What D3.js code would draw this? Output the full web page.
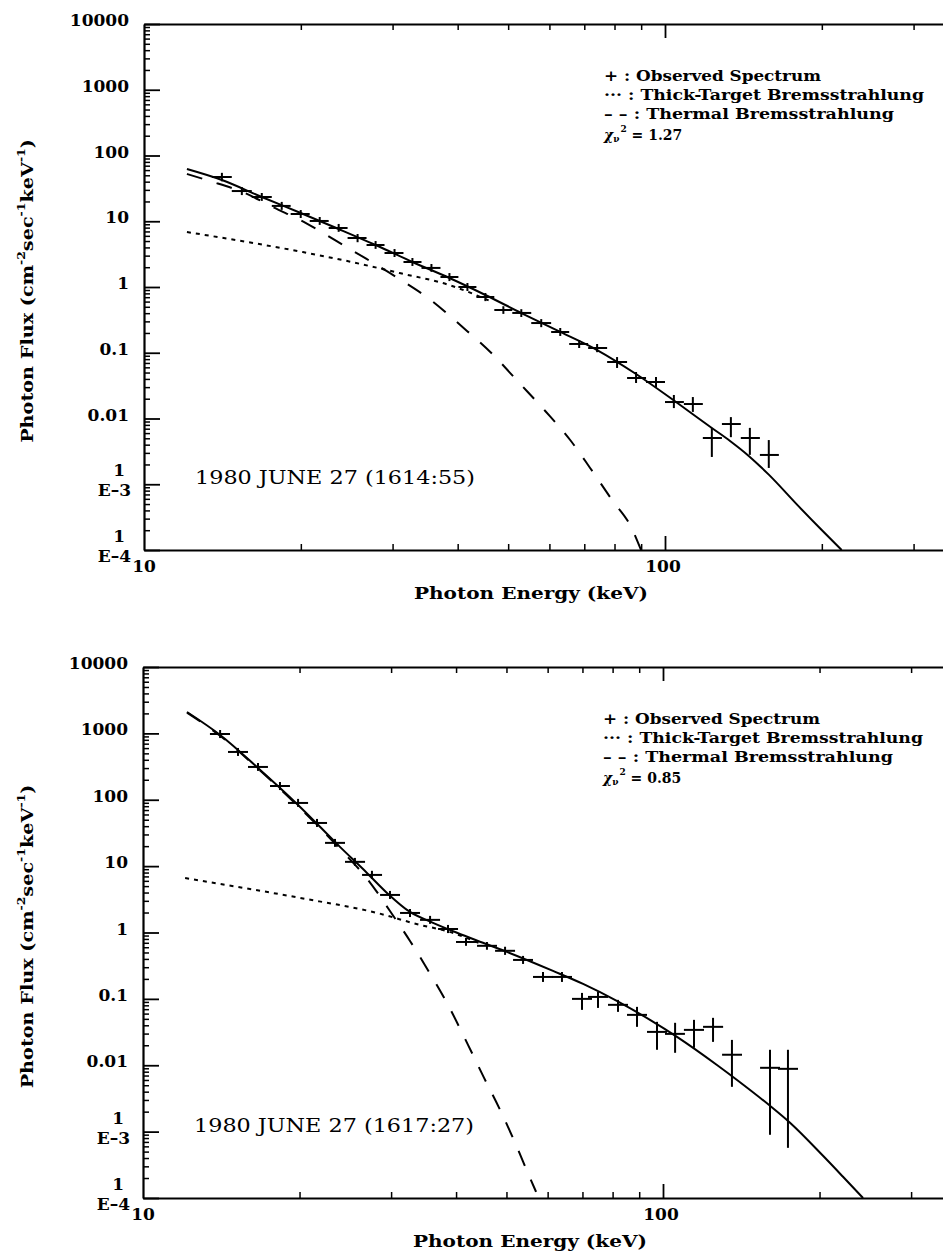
<!DOCTYPE html>
<html>
<head>
<meta charset="utf-8">
<script src="https://cdn.jsdelivr.net/npm/d3@7"></script>
<style>
  body { margin: 0; background: #fff; }
  svg { display: block; }
</style>
</head>
<body>
<svg id="fig" width="943" height="1253"></svg>
<script>
// ---- labels ----
const panelDates = ["1980 JUNE 27 (1614:55)", "1980 JUNE 27 (1617:27)"];
const chiSquared = ["1.27", "0.85"];
const legendLabels = ["+ : Observed Spectrum", "··· : Thick-Target Bremsstrahlung", "– – : Thermal Bremsstrahlung"];
const yTickValues = [1e-4, 1e-3, 0.01, 0.1, 1, 10, 100, 1000, 10000];
const yTickLabels = ["1\nE–4", "1\nE–3", "0.01", "0.1", "1", "10", "100", "1000", "10000"];
const xLabelValues = [10, 100];
const xLabelText = ["10", "100"];

// ---- panel A: 1614:55 ----
const obsA_E = [14.11, 15.41, 16.83, 18.38, 19.99, 21.74, 23.64, 25.70, 27.83, 30.26, 32.75, 35.62, 38.57, 41.76, 45.21, 48.95, 52.99, 57.87, 62.94, 68.43, 74.08, 80.91, 87.99, 96.1, 104.0, 113.1, 123.0, 133.8, 145.5, 158.2];
const obsA_Elo = [13.50, 14.74, 16.10, 17.59, 19.12, 20.80, 22.62, 24.59, 26.74, 28.95, 31.48, 34.09, 37.07, 40.13, 43.45, 47.03, 50.92, 55.37, 60.46, 65.48, 71.20, 77.43, 84.57, 91.96, 100.0, 108.7, 118.2, 128.6, 139.8, 152.1];
const obsA_Ehi = [14.74, 16.10, 17.59, 19.12, 20.80, 22.62, 24.59, 26.74, 28.95, 31.48, 34.09, 37.07, 40.13, 43.45, 47.03, 50.92, 55.37, 60.46, 65.48, 71.20, 77.43, 84.57, 91.96, 100.0, 108.7, 118.2, 128.6, 139.8, 152.1, 165.4];
const obsA_F = [47.1, 28.8, 23.4, 17.1, 12.9, 10.1, 7.9, 5.56, 4.35, 3.29, 2.40, 1.95, 1.42, 1.00, 0.705, 0.447, 0.403, 0.283, 0.207, 0.136, 0.118, 0.0723, 0.0413, 0.0359, 0.0178, 0.0166, 0.00505, 0.00824, 0.00505, 0.00279];
const obsA_Flo = [40.5, 25.0, 20.4, 14.9, 11.2, 8.8, 6.9, 4.8, 3.8, 2.86, 2.09, 1.70, 1.23, 0.87, 0.61, 0.39, 0.35, 0.245, 0.18, 0.118, 0.102, 0.0587, 0.0347, 0.0301, 0.0144, 0.0126, 0.0026, 0.0052, 0.0028, 0.00177];
const obsA_Fhi = [54.5, 33.1, 26.9, 19.7, 14.8, 11.6, 9.1, 6.4, 5.0, 3.78, 2.76, 2.24, 1.63, 1.15, 0.81, 0.51, 0.46, 0.325, 0.238, 0.156, 0.136, 0.086, 0.051, 0.0428, 0.0228, 0.0212, 0.0072, 0.0105, 0.0072, 0.0047];

const totalA_E = [12.09, 14.11, 16.83, 19.99, 23.64, 27.83, 32.75, 38.57, 45.21, 52.99, 62.94, 74.08, 87.99, 105.0, 123.0, 133.5, 144.8, 158.2, 180.6, 199.9, 218.3];
const totalA_F = [62.3, 42.4, 23.4, 13.35, 7.62, 4.35, 2.40, 1.37, 0.756, 0.402, 0.207, 0.110, 0.0475, 0.0178, 0.00717, 0.00452, 0.00270, 0.00140, 4.6e-4, 2.01e-4, 1.0e-4];
const thickA_E = [12.09, 20.17, 24.06, 30.94, 38.57, 46.0];
const thickA_F = [6.86, 3.40, 2.57, 1.63, 1.07, 0.62];
const thermA_E = [12.09, 13.38, 15.62, 17.67, 20.62, 23.22, 26.74, 30.94, 35.31, 40.66, 46.42, 52.52, 58.90, 65.77, 71.82, 79.14, 86.08, 89.95];
const thermA_F = [52.3, 40.9, 26.9, 16.5, 9.08, 5.19, 2.67, 1.32, 0.657, 0.255, 0.0991, 0.0347, 0.0130, 0.00471, 0.00177, 5.76e-4, 2.24e-4, 1.0e-4];

// ---- panel B: 1617:27 ----
const obsB_E = [14.07, 15.23, 16.64, 18.34, 19.87, 21.61, 23.40, 25.56, 27.56, 29.85, 32.62, 35.65, 38.60, 41.80, 45.86, 49.69, 53.81, 58.78, 63.93, 69.86, 74.99, 81.94, 89.13, 97.38, 105.5, 114.7, 124.8, 135.7, 160.6, 173.9];
const obsB_Elo = [13.45, 14.57, 15.92, 17.55, 19.00, 20.67, 22.39, 24.46, 26.38, 28.57, 31.21, 34.10, 36.93, 39.99, 43.89, 47.54, 51.48, 56.23, 61.16, 66.83, 71.74, 78.39, 85.27, 93.17, 100.9, 109.7, 119.4, 129.9, 153.7, 166.4];
const obsB_Ehi = [14.70, 15.92, 17.39, 19.17, 20.77, 22.59, 24.46, 26.73, 28.82, 31.21, 34.10, 37.26, 40.35, 43.70, 47.95, 51.94, 56.23, 61.44, 66.83, 73.02, 78.39, 85.64, 93.17, 101.8, 110.2, 119.9, 130.5, 141.9, 167.9, 181.8];
const obsB_F = [979, 525, 312, 161, 89.5, 44.7, 22.4, 11.6, 7.37, 3.68, 1.97, 1.55, 1.13, 0.72, 0.63, 0.53, 0.386, 0.214, 0.214, 0.100, 0.107, 0.0813, 0.0574, 0.0318, 0.0297, 0.0341, 0.0379, 0.0144, 0.00915, 0.00883];
const obsB_Flo = [850, 457, 272, 140, 78, 38.9, 19.5, 10.1, 6.4, 3.2, 1.71, 1.35, 0.98, 0.63, 0.55, 0.46, 0.336, 0.180, 0.180, 0.0683, 0.0731, 0.0637, 0.0379, 0.0171, 0.0154, 0.0183, 0.0225, 0.00473, 0.000896, 0.00057];
const obsB_Fhi = [1125, 603, 358, 185, 103, 51.4, 25.7, 13.3, 8.5, 4.23, 2.26, 1.78, 1.30, 0.83, 0.72, 0.61, 0.444, 0.254, 0.254, 0.123, 0.127, 0.0966, 0.0758, 0.0451, 0.0436, 0.0483, 0.0518, 0.0241, 0.0171, 0.0171];

const totalB_E = [12.15, 14.07, 16.64, 19.87, 23.92, 26.96, 29.46, 32.62, 36.12, 40.17, 45.06, 50.1, 61.44, 70.2, 81.5, 94.4, 106.4, 127.0, 138.8, 160.6, 175.5, 203.1, 221.9, 242.5];
const totalB_F = [2100, 946, 301, 83.6, 19.5, 7.9, 3.95, 2.04, 1.40, 0.99, 0.70, 0.51, 0.264, 0.168, 0.0933, 0.0483, 0.0268, 0.0101, 0.0060, 0.00245, 0.00136, 4.32e-4, 2.09e-4, 1.0e-4];
const thickB_E = [12.05, 20.04, 28.2, 34.1, 38.4, 45.0];
const thickB_F = [6.6, 3.32, 1.97, 1.30, 1.05, 0.66];
const thermB_E = [12.15, 14.07, 16.64, 19.87, 23.92, 27.09, 29.85, 32.62, 35.3, 38.6, 42.17, 45.28, 48.6, 51.94, 55.5, 57.0];
const thermB_F = [2050, 920, 295, 80, 18.2, 6.2, 2.11, 0.746, 0.273, 0.081, 0.0203, 0.00646, 0.00213, 6.8e-4, 2.0e-4, 1.24e-4];

const serif = "'DejaVu Serif', 'Liberation Serif', serif";
const svg = d3.select("#fig");

const panels = [
  { left: 144, top: 24, bottom: 550, decade: 521, date: panelDates[0], chi: chiSquared[0],
    obs: { E: obsA_E, Elo: obsA_Elo, Ehi: obsA_Ehi, F: obsA_F, Flo: obsA_Flo, Fhi: obsA_Fhi },
    total: d3.zip(totalA_E, totalA_F), thick: d3.zip(thickA_E, thickA_F), therm: d3.zip(thermA_E, thermA_F) },
  { left: 143, top: 667, bottom: 1198, decade: 520, date: panelDates[1], chi: chiSquared[1],
    obs: { E: obsB_E, Elo: obsB_Elo, Ehi: obsB_Ehi, F: obsB_F, Flo: obsB_Flo, Fhi: obsB_Fhi },
    total: d3.zip(totalB_E, totalB_F), thick: d3.zip(thickB_E, thickB_F), therm: d3.zip(thermB_E, thermB_F) }
];

function styleAxis(a, w) {
  a.selectAll("line").attr("stroke", "#000").attr("stroke-width", w);
  a.select(".domain").attr("stroke", "#000").attr("stroke-width", 2.2);
}

function drawPanel(p) {
  const x = d3.scaleLog().domain([10, 1000]).range([p.left, p.left + 2 * p.decade]);
  const y = d3.scaleLog().domain([1e-4, 1e4]).range([p.bottom, p.top]);
  const g = svg.append("g");

  const isDecade = (v) => Math.abs(Math.log10(v) - Math.round(Math.log10(v))) < 1e-9;
  const minorY = y.ticks().filter((v) => !isDecade(v));
  const minorX = x.ticks().filter((v) => !isDecade(v));

  // left axis
  g.append("g").attr("transform", `translate(${p.left},0)`)
    .call(d3.axisLeft(y).tickValues(yTickValues).tickSizeInner(-16).tickSizeOuter(0).tickFormat(""))
    .call((a) => styleAxis(a, 1.8));
  g.append("g").attr("transform", `translate(${p.left},0)`)
    .call(d3.axisLeft(y).tickValues(minorY).tickSizeInner(-6).tickSizeOuter(0).tickFormat(""))
    .call((a) => { a.select(".domain").remove(); styleAxis(a, 1.5); });

  // bottom + top axes
  [[p.bottom, d3.axisBottom], [p.top, d3.axisTop]].forEach(([ty, ax]) => {
    g.append("g").attr("transform", `translate(0,${ty})`)
      .call(ax(x).tickValues([100]).tickSizeInner(-14).tickSizeOuter(0).tickFormat(""))
      .call((a) => styleAxis(a, 1.8));
    g.append("g").attr("transform", `translate(0,${ty})`)
      .call(ax(x).tickValues(minorX).tickSizeInner(-6).tickSizeOuter(0).tickFormat(""))
      .call((a) => { a.select(".domain").remove(); styleAxis(a, 1.5); });
  });

  // y tick labels
  yTickLabels.forEach((lab, i) => {
    const ty = y(yTickValues[i]);
    const parts = lab.split("\n");
    const t = g.append("g").attr("font-family", serif).attr("font-weight", "bold")
      .attr("font-size", 17).attr("text-anchor", "end");
    if (parts.length === 1) {
      t.append("text").attr("x", p.left - 15).attr("y", ty + 2).text(parts[0]);
    } else {
      t.append("text").attr("x", p.left - 19).attr("y", ty - 8).text(parts[0]);
      t.append("text").attr("x", p.left - 13).attr("y", ty + 12).text(parts[1]);
    }
  });

  // x tick labels
  g.append("g").selectAll("text").data(xLabelValues).join("text")
    .attr("font-family", serif).attr("font-weight", "bold").attr("font-size", 17)
    .attr("text-anchor", "middle")
    .attr("x", (d) => x(d) - (d === 100 ? 2 : 0))
    .attr("y", p.bottom + 22)
    .text((d, i) => xLabelText[i]);

  // axis titles
  g.append("text")
    .attr("font-family", serif).attr("font-weight", "bold").attr("font-size", 17)
    .attr("text-anchor", "middle")
    .attr("x", p.left + 387).attr("y", p.bottom + 49)
    .attr("textLength", 234).attr("lengthAdjust", "spacingAndGlyphs")
    .text("Photon Energy (keV)");

  const cy = (p.top + p.bottom) / 2 + 4;
  const yt = g.append("text")
    .attr("font-family", serif).attr("font-weight", "bold").attr("font-size", 17)
    .attr("text-anchor", "middle");
  yt.append("tspan").text("Photon Flux (cm");
  yt.append("tspan").attr("font-size", 11).attr("dy", -8).text("-2");
  yt.append("tspan").attr("dy", 8).text("sec");
  yt.append("tspan").attr("font-size", 11).attr("dy", -8).text("-1");
  yt.append("tspan").attr("dy", 8).text("keV");
  yt.append("tspan").attr("font-size", 11).attr("dy", -8).text("-1");
  yt.append("tspan").attr("dy", 8).text(")");
  const ytLen = yt.node().getComputedTextLength();
  yt.attr("transform", `translate(33,${cy}) rotate(-90) scale(${304 / ytLen},1)`);

  // date annotation
  g.append("text")
    .attr("font-family", serif).attr("font-size", 18)
    .attr("x", p.left + 51).attr("y", p.bottom - 66)
    .attr("textLength", 280).attr("lengthAdjust", "spacingAndGlyphs")
    .text(p.date);

  // legend
  const lx = p.left + 460;
  const lw = [217, 320, 290];
  const ly = [57, 76, 95];
  legendLabels.forEach((s, i) => {
    g.append("text")
      .attr("font-family", serif).attr("font-weight", "bold").attr("font-size", 14)
      .attr("x", lx).attr("y", p.top + ly[i])
      .attr("textLength", lw[i]).attr("lengthAdjust", "spacingAndGlyphs")
      .text(s);
  });
  const chi = g.append("text")
    .attr("font-family", serif).attr("font-weight", "bold").attr("font-size", 14)
    .attr("x", lx).attr("y", p.top + 116);
  chi.append("tspan").attr("font-style", "italic").text("χ");
  chi.append("tspan").attr("font-size", 9).attr("dy", 2).text("ν");
  chi.append("tspan").attr("font-size", 9).attr("dy", -10).attr("dx", 1).text("2");
  chi.append("tspan").attr("dy", 8).text(" = " + p.chi);

  // model curves
  const line = d3.line().x((d) => x(d[0])).y((d) => y(d[1])).curve(d3.curveMonotoneX);
  g.append("path").attr("d", line(p.thick)).attr("fill", "none")
    .attr("stroke", "#000").attr("stroke-width", 2).attr("stroke-dasharray", "4,5");
  g.append("path").attr("d", line(p.therm)).attr("fill", "none")
    .attr("stroke", "#000").attr("stroke-width", 2).attr("stroke-dasharray", "16,15");
  g.append("path").attr("d", line(p.total)).attr("fill", "none")
    .attr("stroke", "#000").attr("stroke-width", 2);

  // observed spectrum crosses
  const o = p.obs;
  const idx = d3.range(o.E.length);
  const cross = g.append("g").attr("stroke", "#000").attr("stroke-width", 2);
  cross.selectAll(".h").data(idx).join("line").attr("class", "h")
    .attr("x1", (i) => x(o.Elo[i])).attr("x2", (i) => x(o.Ehi[i]))
    .attr("y1", (i) => y(o.F[i])).attr("y2", (i) => y(o.F[i]));
  cross.selectAll(".v").data(idx).join("line").attr("class", "v")
    .attr("x1", (i) => x(o.E[i])).attr("x2", (i) => x(o.E[i]))
    .attr("y1", (i) => y(o.Flo[i])).attr("y2", (i) => y(o.Fhi[i]));
}

panels.forEach(drawPanel);
</script>
</body>
</html>
